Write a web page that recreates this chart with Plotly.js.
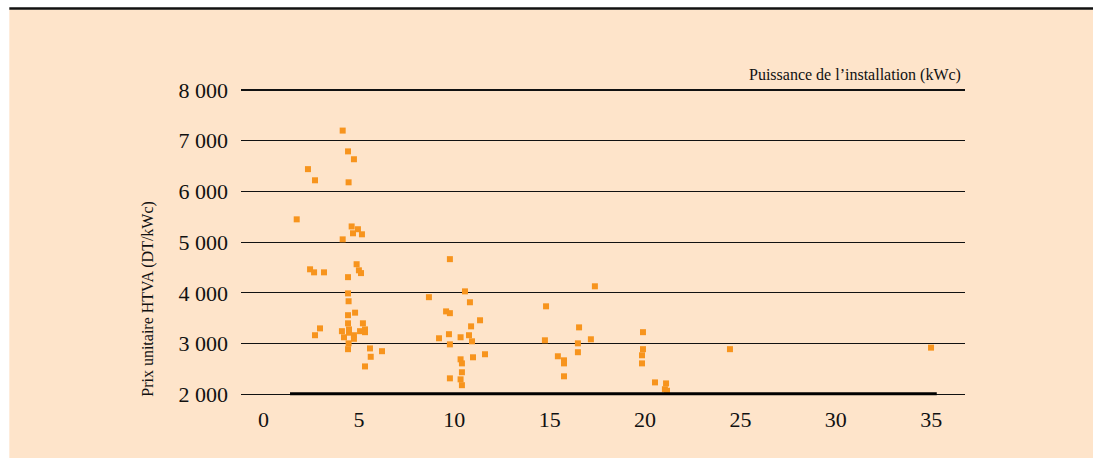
<!DOCTYPE html>
<html>
<head>
<meta charset="utf-8">
<script src="https://cdn.plot.ly/plotly-3.0.1.min.js"></script>
<style>html,body{margin:0;padding:0;background:#fff;}#chart{width:1093px;height:458px;}</style>
</head>
<body>
<div id="chart"></div>
<script>
// Puissance de l'installation (kWc)
const puissance = [
  4.15, 4.43, 4.74, 2.33, 2.70, 4.46, 1.74, 4.62, 4.95, 4.69, 5.16, 4.15,
  2.44, 2.65, 3.17, 4.88, 5.00, 5.11, 4.43, 4.43, 4.46, 4.80, 4.43, 4.43,
  5.21, 2.96, 4.11, 4.48, 4.48, 5.06, 5.32, 5.32, 2.70, 4.22, 4.74, 4.74,
  4.46, 4.43, 5.58, 6.21, 5.62, 5.32,
  9.77, 10.56, 8.67, 10.82, 9.57, 9.77, 11.35, 10.88, 9.20, 9.72, 10.33, 10.77,
  10.93, 9.77, 10.33, 10.40, 10.98, 11.61, 10.40, 9.77, 10.33, 10.40,
  17.37, 14.81, 16.54, 14.75, 16.48, 17.16, 16.48, 15.43, 15.75, 15.75, 15.75,
  19.89, 19.89, 19.84, 19.84, 20.52, 21.10, 21.04, 21.15,
  24.45, 34.99
];
// Prix unitaire HTVA (DT/kWc)
const prix = [
  7200, 6790, 6635, 6440, 6220, 6180, 5450, 5310, 5255, 5175, 5155, 5055,
  4465, 4405, 4405, 4565, 4445, 4390, 4310, 3990, 3835, 3610, 3560, 3400,
  3400, 3300, 3245, 3280, 3215, 3245, 3280, 3225, 3165, 3125, 3165, 3095,
  3005, 2890, 2905, 2850, 2740, 2550,
  4665, 4030, 3915, 3815, 3635, 3600, 3460, 3340, 3105, 3185, 3125, 3165,
  3045, 2985, 2690, 2610, 2730, 2790, 2435, 2315, 2295, 2180,
  4130, 3735, 3320, 3065, 3005, 3085, 2830, 2750, 2670, 2610, 2355,
  3225, 2890, 2770, 2610, 2235, 2215, 2100, 2070,
  2890, 2920
];
const xTicks = [0, 5, 10, 15, 20, 25, 30, 35];
const yTicks = [2000, 3000, 4000, 5000, 6000, 7000, 8000];
const xTitle = "Puissance de l’installation (kWc)";
const yTitle = "Prix unitaire HTVA (DT/kWc)";

const FONT = "Liberation Serif, Times New Roman, serif";

const trace = {
  type: "scatter",
  mode: "markers",
  x: puissance,
  y: prix,
  marker: {symbol: "square", size: 6, color: "#F7941D", line: {width: 0}},
  hoverinfo: "x+y",
  showlegend: false
};

// plot area: 8000 at y≈90px, 2000 at y≈394px
const layout = {
  width: 1093,
  height: 458,
  margin: {l: 241, r: 128, t: 89, b: 61, pad: 0},
  paper_bgcolor: "#ffffff",
  plot_bgcolor: "rgba(0,0,0,0)",
  separators: ", ",
  font: {family: FONT, color: "#111111"},
  xaxis: {
    range: [-1.18, 36.77],
    tickvals: xTicks,
    showgrid: false,
    zeroline: false,
    showline: false,
    ticks: "",
    ticklabelstandoff: 7,
    tickfont: {family: FONT, size: 22, color: "#111111"}
  },
  yaxis: {
    range: [1947, 8020],
    tickvals: yTicks,
    tickformat: ",d",
    showgrid: true,
    gridcolor: "#111111",
    gridwidth: 1.2,
    zeroline: false,
    showline: false,
    ticks: "",
    ticklabelstandoff: 12,
    tickfont: {family: FONT, size: 22, color: "#111111"}
  },
  shapes: [
    {type: "rect", xref: "paper", yref: "paper", x0: -0.32, x1: 1.2, y0: -0.3, y1: 1.258,
     fillcolor: "#FEE4CA", line: {width: 0}, layer: "below"},
    {type: "line", xref: "paper", yref: "paper", x0: -0.32, x1: 1.2, y0: 1.2615, y1: 1.2615,
     line: {color: "#111111", width: 2.5}, layer: "below"},
    {type: "line", xref: "paper", yref: "paper", x0: 0.0677, x1: 0.961, y0: 0.0105, y1: 0.0105,
     line: {color: "#000000", width: 3}, layer: "above"}
  ],
  annotations: [
    {text: xTitle, xref: "paper", yref: "paper", x: 0.997, y: 1.046,
     xanchor: "right", yanchor: "middle", showarrow: false,
     font: {family: FONT, size: 16, color: "#111111"}},
    {text: yTitle, xref: "paper", yref: "paper", x: -0.128, y: 0.32,
     xanchor: "center", yanchor: "middle", textangle: -90, showarrow: false,
     font: {family: FONT, size: 16, color: "#111111"}}
  ]
};

Plotly.newPlot("chart", [trace], layout, {displayModeBar: false, staticPlot: true});
</script>
</body>
</html>
